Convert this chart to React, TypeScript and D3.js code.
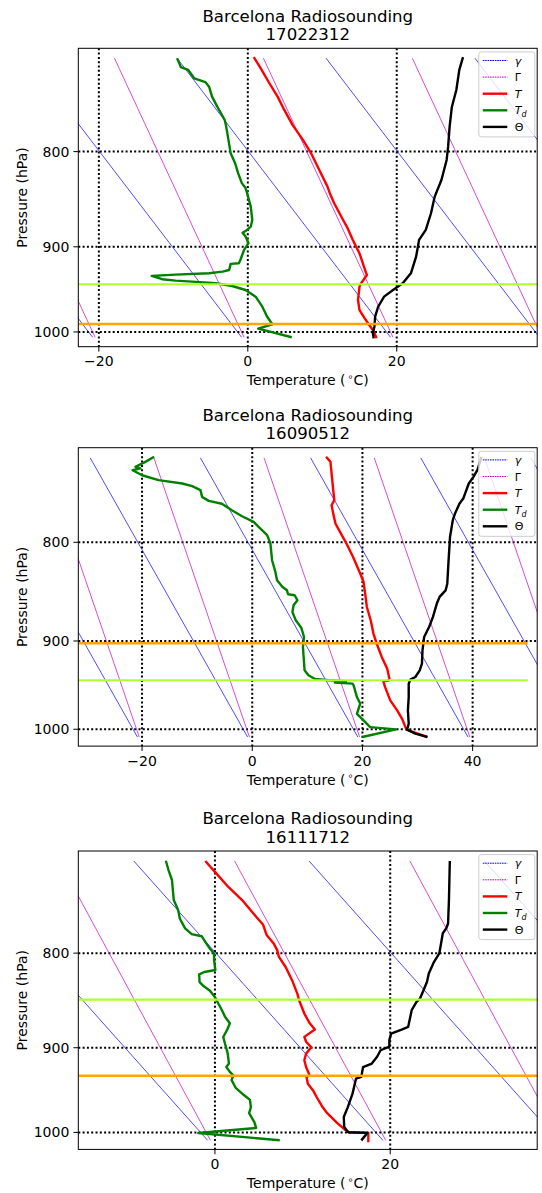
import React from "react";
import * as d3 from "d3";

// A sounding level: [pressure (hPa), temperature (°C)]
type Level = [number, number];

const TITLE = "Barcelona Radiosounding";
const SOUNDING_IDS = ["17022312", "16090512", "16111712"];

// ---- Sounding 17022312 ----
const T_17022312: Level[] = [
  [711.8, 0.8], [720.1, 1.6], [735.1, 2.9], [747.4, 4.0], [759.8, 4.9], [774.0, 6.0],
  [788.5, 7.4], [801.7, 8.5], [818.4, 9.6], [835.4, 10.7], [842.0, 11.0], [852.8, 11.6],
  [870.6, 12.8], [879.5, 13.4], [885.0, 13.7], [892.4, 14.1], [907.3, 15.0], [930.0, 15.9],
  [931.9, 16.0], [941.6, 15.2], [945.4, 15.0], [961.2, 14.8], [973.3, 15.0], [983.3, 15.7],
  [991.4, 16.3], [997.6, 16.8], [1001.6, 17.0], [1007.9, 17.3],
];
const TD_17022312: Level[] = [
  [712.7, -9.5], [717.2, -9.2], [720.5, -9.0], [723.1, -8.0], [730.6, -7.2], [734.0, -5.7],
  [738.2, -5.2], [747.4, -4.8], [756.7, -4.1], [769.3, -3.1], [775.6, -2.9], [788.5, -2.6],
  [801.7, -2.3], [811.6, -1.7], [821.6, -1.3], [831.8, -0.8], [836.9, -0.3], [842.0, -0.1],
  [856.4, 0.4], [870.6, 0.6], [877.7, 0.4], [881.4, -0.1], [884.5, -0.7], [888.7, -0.3],
  [896.0, 0.1], [903.5, -0.5], [914.8, -1.0], [918.5, -1.2], [919.2, -2.3], [926.2, -2.5],
  [928.1, -3.4], [929.9, -5.2], [931.5, -9.7], [933.0, -12.9], [936.8, -11.5], [938.5, -9.7],
  [939.6, -7.5], [941.5, -4.3], [944.7, -2.1], [949.4, -0.3], [957.3, 1.05], [969.2, 1.95],
  [981.3, 2.6], [990.5, 3.3], [995.9, 1.4], [1006.6, 5.9],
];
const THETA_17022312: Level[] = [
  [711.8, 28.9], [723.1, 28.4], [741.3, 28.0], [757.0, 27.4], [775.6, 27.1], [795.1, 26.9],
  [808.3, 26.7], [828.6, 26.0], [845.8, 25.1], [863.4, 24.6], [881.4, 23.9], [892.4, 23.0],
  [911.0, 22.6], [930.0, 21.9], [941.6, 20.8], [949.4, 19.5], [957.2, 18.3], [969.3, 17.5],
  [981.3, 17.1], [993.5, 17.0], [1001.6, 16.8], [1007.9, 16.9],
];

// ---- Sounding 16090512 ----
const T_16090512: Level[] = [
  [722.4, 13.4], [726.8, 14.2], [736.9, 14.4], [751.7, 14.7], [760.8, 14.9], [765.4, 14.4],
  [773.1, 14.7], [782.3, 15.1], [791.7, 16.1], [801.2, 17.1], [814.1, 18.3], [830.4, 19.6],
  [838.8, 20.2], [850.5, 20.5], [864.2, 20.8], [878.0, 21.5], [892.1, 22.0], [903.0, 22.6],
  [917.3, 23.5], [930.2, 24.5], [941.4, 24.9], [943.5, 24.8], [944.5, 23.8], [950.7, 24.1],
  [966.1, 25.05], [977.7, 26.3], [987.6, 27.2], [997.4, 27.8], [1000.5, 28.0], [1003.4, 29.3],
  [1009.3, 31.8],
];
const TD_16090512: Level[] = [
  [722.4, -17.8], [726.8, -19.4], [731.1, -21.2], [732.5, -20.3], [734.1, -21.7], [738.5, -20.0],
  [742.8, -17.0], [745.8, -12.7], [748.2, -10.9], [751.7, -9.4], [757.8, -9.1], [761.4, -7.9],
  [764.0, -5.5], [770.0, -3.7], [775.5, -1.85], [780.8, 0.25], [785.4, 1.16], [793.2, 2.7],
  [801.2, 3.3], [817.3, 3.6], [828.8, 4.2], [837.0, 4.5], [843.8, 5.5], [847.2, 6.3],
  [851.2, 6.5], [852.2, 7.7], [857.3, 8.2], [862.5, 7.5], [869.4, 7.3], [878.1, 7.9],
  [885.8, 8.9], [895.7, 9.4], [906.5, 9.2], [932.1, 9.5], [937.6, 10.2], [941.8, 11.4],
  [943.2, 13.9], [943.9, 16.4], [944.8, 17.0], [945.8, 15.0], [947.0, 18.2], [948.9, 18.4],
  [962.3, 19.0], [969.9, 19.6], [981.7, 19.0], [989.4, 20.2], [997.4, 21.4], [1000.2, 26.1],
  [1009.3, 20.0],
];
const THETA_16090512: Level[] = [
  [722.4, 41.6], [733.5, 40.9], [739.9, 40.15], [745.8, 39.3], [759.3, 38.3], [764.0, 37.6],
  [773.1, 36.8], [779.2, 36.4], [794.8, 35.9], [820.6, 35.6], [840.5, 35.4], [847.2, 35.1],
  [853.9, 34.0], [860.7, 33.5], [874.5, 32.8], [885.1, 32.1], [895.7, 31.2], [910.1, 30.9],
  [924.7, 30.8], [932.1, 30.4], [939.5, 29.6], [942.5, 28.7], [947.1, 28.4], [962.3, 28.4],
  [977.7, 28.25], [993.4, 28.4], [1000.5, 28.1], [1005.3, 29.6], [1009.3, 31.8],
];

// ---- Sounding 16111712 ----
const T_16111712: Level[] = [
  [713.3, -1.1], [724.4, 0.15], [736.5, 1.5], [748.9, 3.1], [764.6, 4.7], [772.3, 5.5],
  [782.2, 5.9], [790.4, 6.7], [797.0, 7.1], [803.7, 7.3], [813.7, 8.05], [827.4, 8.8],
  [841.3, 9.4], [848.3, 9.6], [862.5, 10.2], [872.8, 10.8], [879.9, 11.4], [887.9, 10.2],
  [893.3, 10.4], [899.5, 11.0], [906.6, 10.4], [914.1, 10.2], [921.9, 10.4], [931.5, 10.8],
  [933.4, 10.45], [941.2, 10.6], [949.1, 11.2], [956.9, 11.6], [969.3, 12.3], [975.6, 12.75],
  [988.0, 13.9], [996.3, 14.8], [999.8, 15.3], [1000.6, 17.5], [1012.2, 17.5],
];
const TD_16111712: Level[] = [
  [713.1, -5.6], [721.4, -5.3], [730.4, -4.9], [739.6, -4.8], [748.9, -4.7], [758.2, -4.2],
  [766.5, -4.0], [775.7, -3.4], [781.3, -2.65], [783.4, -1.5], [788.8, -1.1], [795.3, -0.6],
  [800.3, -0.1], [807.0, -0.1], [817.0, 0.05], [819.0, -1.2], [821.5, -1.8], [829.5, -1.75],
  [833.5, -1.3], [838.0, -0.6], [845.0, 0.0], [852.0, 0.4], [859.0, 0.8], [866.0, 1.15],
  [873.0, 1.7], [880.0, 1.4], [888.0, 0.95], [895.5, 1.15], [902.3, 1.35], [906.6, 1.46],
  [917.9, 1.6], [921.9, 1.3], [927.4, 1.7], [931.5, 2.1], [937.0, 1.9], [946.5, 2.4],
  [954.6, 3.3], [960.4, 4.0], [969.3, 4.1], [976.3, 3.9], [987.2, 4.5], [994.5, 4.7],
  [1000.8, -1.9], [1009.8, 7.4],
];
const THETA_16111712: Level[] = [
  [713.3, 26.8], [748.9, 26.7], [771.0, 26.6], [775.6, 26.4], [780.4, 26.0], [790.4, 25.8],
  [800.3, 25.6], [808.7, 25.0], [820.5, 24.4], [829.0, 24.2], [837.8, 23.8], [846.5, 23.4],
  [850.1, 23.0], [858.9, 22.45], [876.9, 22.05], [879.9, 21.3], [884.3, 20.1], [891.5, 19.9],
  [898.7, 19.9], [902.8, 18.9], [910.2, 18.5], [917.9, 17.9], [921.9, 16.9], [933.3, 16.7],
  [935.2, 16.1], [952.9, 15.7], [969.3, 15.15], [981.1, 14.7], [993.4, 14.75], [999.8, 15.2],
  [1000.6, 17.4], [1010.0, 16.7],
];

const T_SERIES = [T_17022312, T_16090512, T_16111712];
const TD_SERIES = [TD_17022312, TD_16090512, TD_16111712];
const THETA_SERIES = [THETA_17022312, THETA_16090512, THETA_16111712];

// Axis ticks and limits for each sounding
const X_TICKS = [[-20, 0, 20], [-20, 0, 20, 40], [0, 20]];
const P_TICKS = [800, 900, 1000];
const T_LIMITS: [number, number][] = [[-22.76, 38.86], [-31.57, 51.72], [-15.59, 36.77]];
const P_LIMITS: [number, number][] = [[704.0, 1018.4], [714.6, 1020.3], [704.5, 1021.4]];

// Highlighted pressure levels (hPa)
const GREENYELLOW_LEVEL = [942.7, 943.2, 847.6];
const ORANGE_LEVEL = [990.2, 902.5, 931.9];
const LEVEL_T_RANGE: [number, number] = [-40, 50];

// Reference lapse-rate lines
const LAPSE_SEA_LEVEL_T = [-40, -20, 0, 20, 40, 60, 80];
const GAMMA_RATE = 9.8; // K/km
const BIG_GAMMA_RATE = 5.95; // K/km
const SURFACE_P = [1006.6, 1009.4, 1010.0];
const LINE_TOP_P = [712.7, 723.3, 713.3];
const SCALE_HEIGHT = [8.47, 8.75, 8.34]; // km
const STATION_HEIGHT = 0.085; // km

// Layout
const WIDTH = 542;
const HEIGHT = 1193;
const PLOT_LEFT = 78.3;
const PLOT_RIGHT = 537.2;
const PLOT_H = 298.4;
const PLOT_TOPS = [48.3, 447.7, 851];
const FONT = "DejaVu Sans";

const GRID_STYLE = { stroke: "#000", strokeWidth: 2, strokeDasharray: "2 2.3" };
const GAMMA_COLOR = "#0000ff";
const BIG_GAMMA_COLOR = "#c000c0";
const LAPSE_WIDTH = 0.7;
const LEGEND_DASH = "1.6 0.8";

function Legend({ right, top }: { right: number; top: number }) {
  const w = 56;
  const h = 85;
  const x0 = right - w;
  const rows = [
    { color: GAMMA_COLOR, width: 1, dash: LEGEND_DASH, label: "gamma" },
    { color: BIG_GAMMA_COLOR, width: 1, dash: LEGEND_DASH, label: "Gamma" },
    { color: "#ff0000", width: 2.4, dash: undefined, label: "T" },
    { color: "#008000", width: 2.4, dash: undefined, label: "Td" },
    { color: "#000000", width: 2.4, dash: undefined, label: "Theta" },
  ];
  return (
    <g>
      <rect x={x0} y={top} width={w} height={h} rx={2.5} fill="#fff" fillOpacity={0.8} stroke="#cccccc" strokeWidth={1} />
      {rows.map((r, k) => {
        const cy = top + 8.6 + k * 16.6;
        const tx = x0 + 36;
        return (
          <g key={k}>
            <line x1={x0 + 4} x2={x0 + 28.5} y1={cy} y2={cy} stroke={r.color} strokeWidth={r.width} strokeDasharray={r.dash} />
            <text x={tx} y={cy + 4} fontFamily={FONT} fontSize={11} fill="#000">
              {r.label === "gamma" && <tspan fontStyle="italic">γ</tspan>}
              {r.label === "Gamma" && <tspan>Γ</tspan>}
              {r.label === "T" && <tspan fontStyle="italic">T</tspan>}
              {r.label === "Td" && (
                <>
                  <tspan fontStyle="italic">T</tspan>
                  <tspan fontStyle="italic" fontSize={8} dy={3}>d</tspan>
                </>
              )}
              {r.label === "Theta" && <tspan>Θ</tspan>}
            </text>
          </g>
        );
      })}
    </g>
  );
}

function Sounding({ index }: { index: number }) {
  const top = PLOT_TOPS[index];
  const bottom = top + PLOT_H;
  const x = d3.scaleLinear().domain(T_LIMITS[index]).range([PLOT_LEFT, PLOT_RIGHT]);
  const y = d3.scaleLog().domain(P_LIMITS[index]).range([top, bottom]);
  const line = d3
    .line<Level>()
    .x((d) => x(d[1]))
    .y((d) => y(d[0]));
  const clipId = `plot-clip-${index}`;
  const cx = (PLOT_LEFT + PLOT_RIGHT) / 2;

  const ps = SURFACE_P[index];
  const pt = LINE_TOP_P[index];
  const H = SCALE_HEIGHT[index];
  const lapseLine = (t0: number, rate: number): Level[] =>
    [ps, pt].map((p) => [p, t0 - rate * (STATION_HEIGHT + H * Math.log(ps / p))] as Level);

  return (
    <g>
      {/* title */}
      <text x={cx} y={top - 26.8} textAnchor="middle" fontFamily={FONT} fontSize={16.6} fill="#000">
        {TITLE}
      </text>
      <text x={cx} y={top - 8.4} textAnchor="middle" fontFamily={FONT} fontSize={16.6} fill="#000">
        {SOUNDING_IDS[index]}
      </text>

      <clipPath id={clipId}>
        <rect x={PLOT_LEFT} y={top} width={PLOT_RIGHT - PLOT_LEFT} height={PLOT_H} />
      </clipPath>

      <g clipPath={`url(#${clipId})`}>
        {/* dotted grid */}
        {X_TICKS[index].map((t) => (
          <line key={`gx${t}`} x1={x(t)} x2={x(t)} y1={top} y2={bottom} {...GRID_STYLE} />
        ))}
        {P_TICKS.map((p) => (
          <line key={`gy${p}`} x1={PLOT_LEFT} x2={PLOT_RIGHT} y1={y(p)} y2={y(p)} {...GRID_STYLE} />
        ))}

        {/* lapse-rate reference lines */}
        {LAPSE_SEA_LEVEL_T.map((t0) => (
          <path key={`g${t0}`} d={line(lapseLine(t0, GAMMA_RATE)) ?? ""} fill="none"
            stroke={GAMMA_COLOR} strokeWidth={LAPSE_WIDTH} />
        ))}
        {LAPSE_SEA_LEVEL_T.map((t0) => (
          <path key={`G${t0}`} d={line(lapseLine(t0, BIG_GAMMA_RATE)) ?? ""} fill="none"
            stroke={BIG_GAMMA_COLOR} strokeWidth={LAPSE_WIDTH} />
        ))}

        {/* profiles */}
        <path d={line(T_SERIES[index]) ?? ""} fill="none" stroke="#ff0000" strokeWidth={2.4} strokeLinejoin="round" />
        <path d={line(TD_SERIES[index]) ?? ""} fill="none" stroke="#008000" strokeWidth={2.4} strokeLinejoin="round" />
        <path d={line(THETA_SERIES[index]) ?? ""} fill="none" stroke="#000000" strokeWidth={2.4} strokeLinejoin="round" />

        {/* highlighted levels */}
        <line x1={x(LEVEL_T_RANGE[0])} x2={x(LEVEL_T_RANGE[1])}
          y1={y(GREENYELLOW_LEVEL[index])} y2={y(GREENYELLOW_LEVEL[index])}
          stroke="#adff2f" strokeWidth={2.2} />
        <line x1={x(LEVEL_T_RANGE[0])} x2={x(LEVEL_T_RANGE[1])}
          y1={y(ORANGE_LEVEL[index])} y2={y(ORANGE_LEVEL[index])}
          stroke="#ffa500" strokeWidth={2.4} />
      </g>

      {/* frame */}
      <rect x={PLOT_LEFT} y={top} width={PLOT_RIGHT - PLOT_LEFT} height={PLOT_H} fill="none" stroke="#000" strokeWidth={1} />

      {/* y axis */}
      {P_TICKS.map((p) => (
        <g key={`yt${p}`}>
          <line x1={PLOT_LEFT - 4.9} x2={PLOT_LEFT} y1={y(p)} y2={y(p)} stroke="#000" strokeWidth={1} />
          <text x={PLOT_LEFT - 9} y={y(p) + 5} textAnchor="end" fontFamily={FONT} fontSize={14} fill="#000">
            {p}
          </text>
        </g>
      ))}
      <text transform={`translate(26.5, ${(top + bottom) / 2}) rotate(-90)`} textAnchor="middle"
        fontFamily={FONT} fontSize={14} fill="#000">
        Pressure (hPa)
      </text>

      {/* x axis */}
      {X_TICKS[index].map((t) => (
        <g key={`xt${t}`}>
          <line x1={x(t)} x2={x(t)} y1={bottom} y2={bottom + 4.9} stroke="#000" strokeWidth={1} />
          <text x={x(t)} y={bottom + 19.6} textAnchor="middle" fontFamily={FONT} fontSize={14} fill="#000">
            {t < 0 ? `\u2212${Math.abs(t)}` : t}
          </text>
        </g>
      ))}
      <text x={cx} y={bottom + 38.6} textAnchor="middle" fontFamily={FONT} fontSize={14} fill="#000">
        Temperature (<tspan dx={2} fontSize={9.5} dy={-5.5}>∘</tspan>
        <tspan dy={5.5}>C)</tspan>
      </text>

      <Legend right={PLOT_RIGHT - 2.4} top={top + 3.6} />
    </g>
  );
}

export default function App() {
  return (
    <svg width={WIDTH} height={HEIGHT} viewBox={`0 0 ${WIDTH} ${HEIGHT}`}
      style={{ position: "absolute", left: 0, top: 0, background: "#fff" }}>
      <rect width={WIDTH} height={HEIGHT} fill="#fff" />
      {SOUNDING_IDS.map((id, i) => (
        <Sounding key={id} index={i} />
      ))}
    </svg>
  );
}
